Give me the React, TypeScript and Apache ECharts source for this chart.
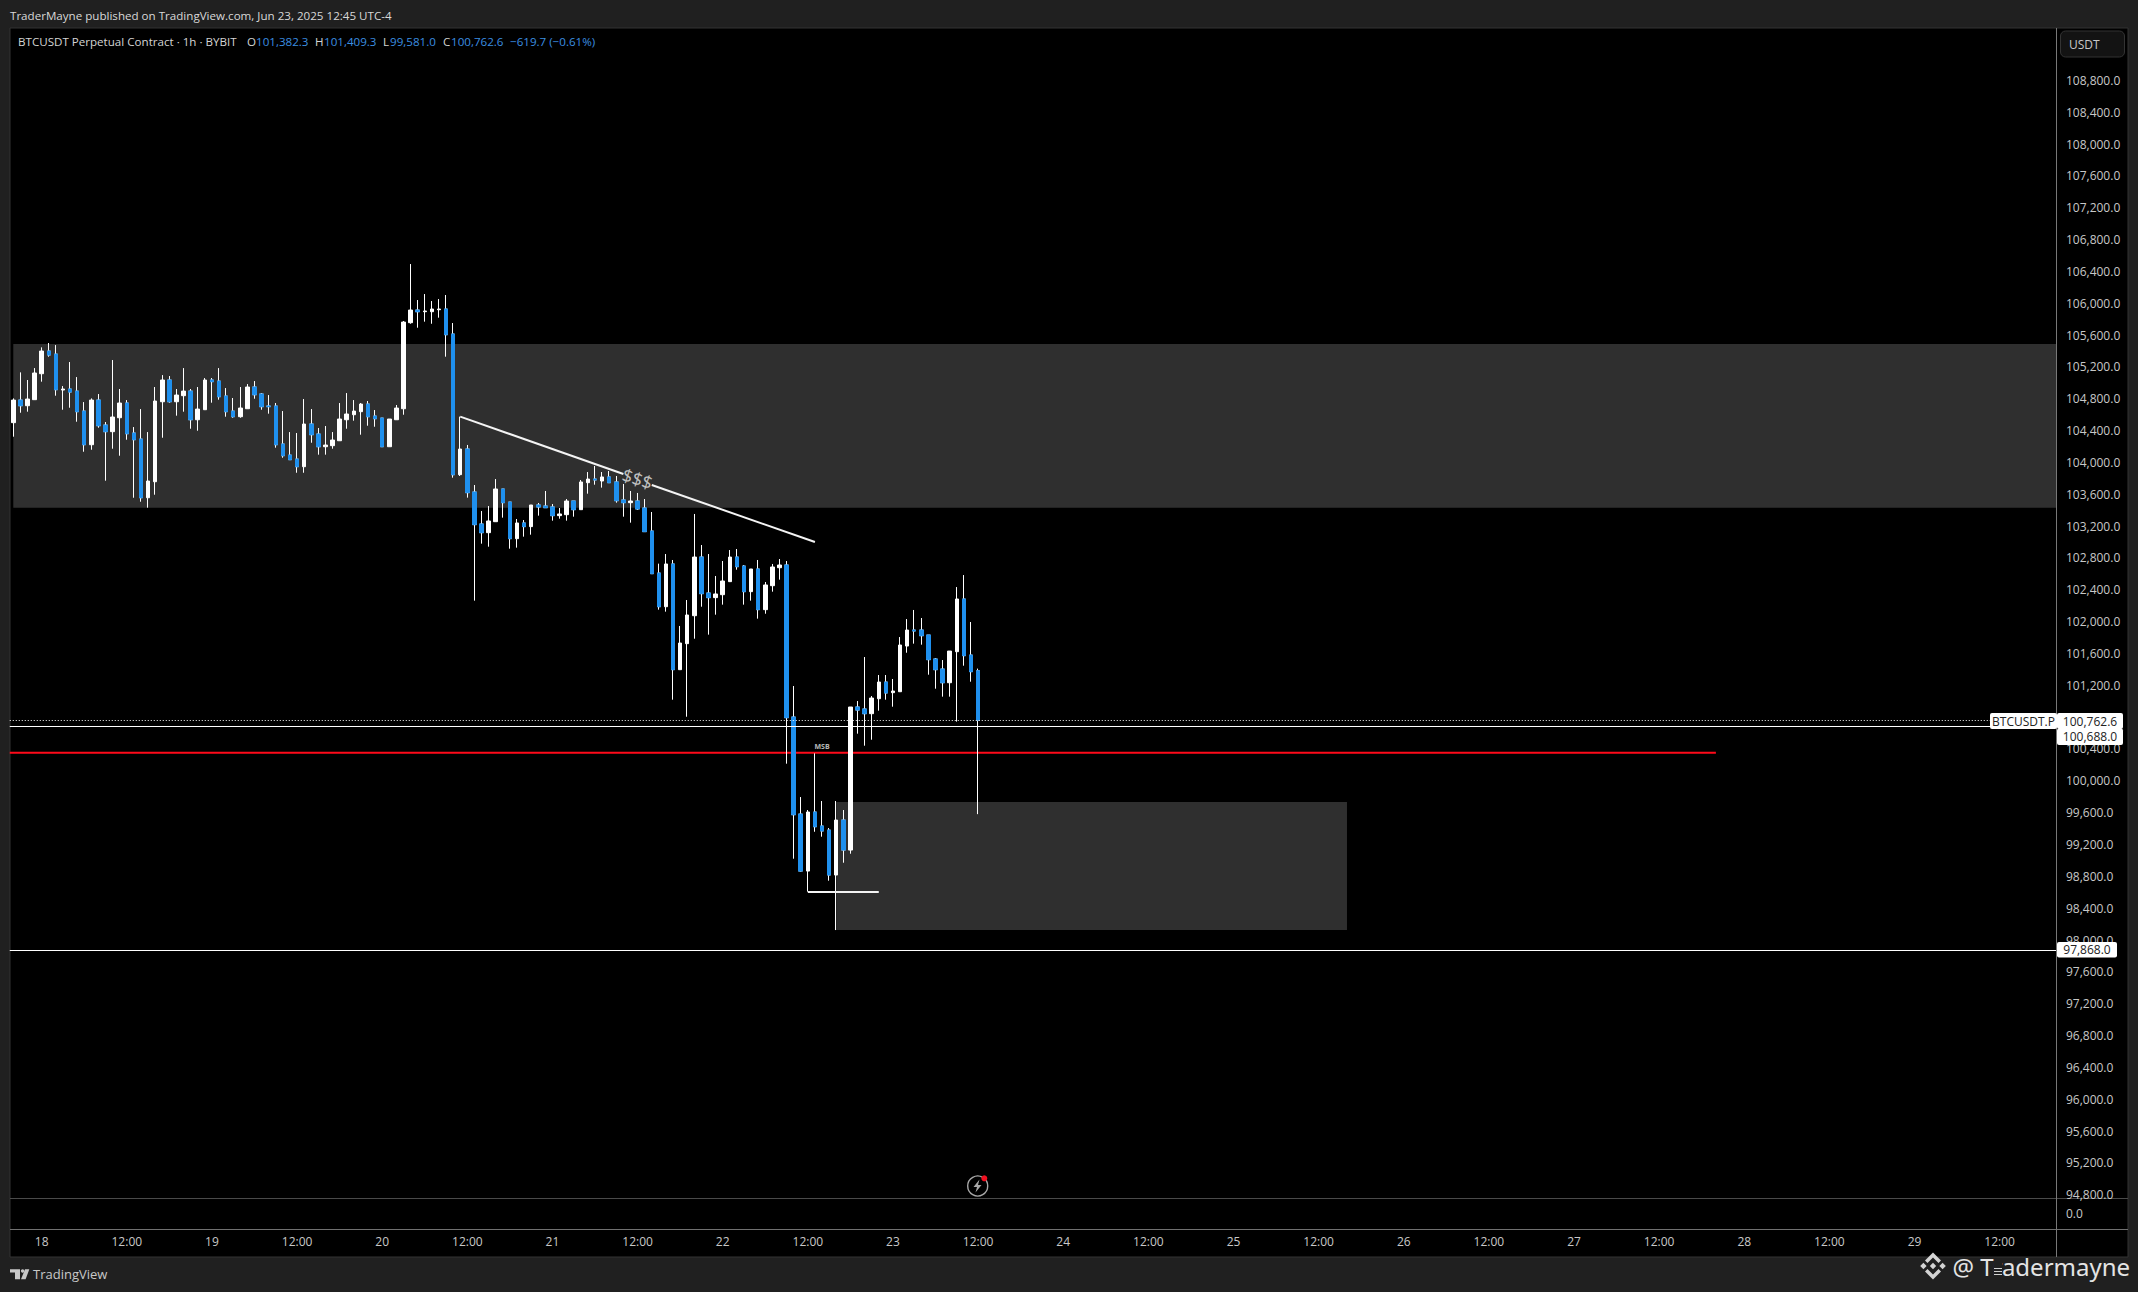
import React, { useEffect, useRef } from "react";
import * as echarts from "echarts";

// Candles, hourly, first one is Jun 17 20:00: [open, high, low, close]
const candles: number[][] = [
  [104499,104804,104323,104783],[104783,105131,104624,104712],[104712,105035,104637,104796],[104788,105185,104788,105123],
  [105114,105445,105014,105399],[105399,105500,105328,105349],[105361,105474,104838,104913],[104909,104959,104662,104922],
  [104922,105261,104687,104884],[104896,105072,104511,104637],[104645,104758,104134,104222],[104222,104804,104159,104783],
  [104783,104859,104436,104461],[104469,104507,103770,104386],[104386,105286,104172,104570],[104561,104922,104084,104746],
  [104746,104783,104285,104360],[104369,104444,103556,104285],[104293,104670,103506,103556],[103556,104381,103431,103766],
  [103757,104947,103594,104771],[104762,105097,104310,105035],[105035,105085,104750,104762],[104762,104922,104587,104846],
  [104838,105185,104637,104896],[104896,104922,104423,104536],[104536,104947,104398,104670],[104662,105060,104662,105035],
  [105035,105060,104750,105014],[105022,105185,104788,104825],[104834,104934,104574,104637],[104645,104809,104561,104574],
  [104574,104947,104561,104683],[104674,104984,104674,104947],[104947,105022,104800,104850],[104859,104871,104662,104700],
  [104708,104846,104612,104700],[104708,104746,104185,104222],[104231,104645,104059,104084],[104092,104381,104034,104034],
  [104042,104369,103870,103946],[103946,104796,103870,104482],[104482,104670,104247,104348],[104356,104432,104097,104197],
  [104197,104457,104097,104218],[104210,104381,104172,104281],[104272,104746,104272,104545],[104536,104871,104423,104608],
  [104599,104783,104524,104645],[104637,104746,104348,104733],[104733,104771,104461,104574],[104582,104658,104448,104549],
  [104557,104557,104197,104197],[104197,104545,104197,104545],[104536,104721,104536,104683],[104674,105776,104599,105763],
  [105755,106492,105742,105914],[105914,106040,105692,105893],[105893,106115,105768,105902],[105893,106027,105742,105927],
  [105918,106052,105818,105927],[105927,106103,105328,105604],[105613,105751,103808,103845],[103846,104575,103829,104168],
  [104168,104219,103557,103620],[103628,103716,102263,103218],[103226,103389,102979,103117],[103117,103452,102941,103264],
  [103255,103791,103255,103666],[103666,103666,103306,103494],[103502,103502,102916,103042],[103042,103289,102929,103239],
  [103239,103276,103067,103193],[103193,103465,103092,103465],[103465,103490,103331,103440],[103452,103641,103431,103431],
  [103440,103477,103268,103331],[103331,103427,103293,103352],[103343,103540,103268,103515],[103515,103515,103318,103406],
  [103406,103779,103406,103754],[103745,103879,103607,103791],[103791,103955,103720,103779],[103766,103879,103683,103817],
  [103817,103892,103745,103745],[103754,103829,103494,103519],[103528,103729,103318,103494],[103494,103641,103243,103515],
  [103515,103616,103402,103415],[103427,103540,103130,103130],[103138,103377,102602,102602],[102610,102728,102150,102187],
  [102187,102849,102125,102724],[102724,102774,101019,101396],[101396,101945,101396,101731],[101723,102271,100805,102083],
  [102074,103352,101785,102811],[102811,102962,102187,102351],[102359,102849,101836,102301],[102301,102573,102087,102347],
  [102338,102761,102213,102510],[102502,102899,102502,102811],[102811,102912,102652,102690],[102698,102711,102213,102376],
  [102376,102661,102263,102661],[102661,102774,102037,102150],[102150,102497,102099,102460],[102451,102724,102376,102686],
  [102677,102786,102527,102711],[102711,102761,100215,100793],[100801,101191,99021,99574],[99582,99796,98858,98866],
  [98866,99633,98607,99608],[99608,100345,99360,99423],[99432,99746,99298,99369],[99381,99407,98745,98816],
  [98816,99746,98125,99507],[99507,99633,98971,99130],[99130,100927,99084,100927],[100927,101002,100592,100889],
  [100902,101555,100441,100843],[100843,101065,100516,101040],[101031,101329,100881,101241],[101241,101329,101019,101103],
  [101107,101279,100931,101128],[101119,101806,101119,101706],[101693,102032,101609,101894],[101894,102146,101723,101882],
  [101894,102045,101710,101823],[101831,101831,101333,101522],[101530,101542,101157,101396],[101404,101517,101057,101232],
  [101232,101630,101057,101630],[101622,102434,100743,102284],[102284,102585,101446,101572],[101580,101995,101245,101371],
  [101382.3,101409.3,99581.0,100762.6],
];

// Time axis: one slot per hour, 4 slots before day 18 begins, 289 slots in all
const slotCount = 289;
const hoursBeforeFirstDay = 4;
const firstDay = 18;
const timeLabels: string[] = Array.from({ length: slotCount }, (_, i) => {
  const h = i - hoursBeforeFirstDay;
  if (h >= 0 && h % 24 === 0) return String(firstDay + h / 24);
  if (h >= 0 && h % 12 === 0) return "12:00";
  return "";
});

// Levels and drawings (prices, slot indexes)
const lastPrice = 100762.6;
const whiteLevel = 100688;
const lowLevel = 97868;
const redLevel = 100353;
const redEndSlot = 240;
const upperZone = { from: 0, to: 288, top: 105487, bottom: 103431 };
const lowerZone = { from: 116, to: 188, top: 99734, bottom: 98126 };
const trendSegments = [
  [[63, 104575], [86, 103854]],
  [[90, 103716], [113, 103000]],
];
const bracket = [[112, 98607], [122, 98607]];
const notes = [
  { text: "$$$", at: [88, 103797], size: 18, rotate: -18, weight: "normal" },
  { text: "MSB", at: [114, 100437], size: 7, rotate: 0, weight: "bold" },
];

const legendParts: [string, number, string][] = [
  ["BTCUSDT Perpetual Contract · 1h · BYBIT", 18, "#d4d4d4"],
  ["O", 247, "#d4d4d4"], ["101,382.3", 256, "#3b8fe0"],
  ["H", 315, "#d4d4d4"], ["101,409.3", 324, "#3b8fe0"],
  ["L", 383, "#d4d4d4"], ["99,581.0", 390, "#3b8fe0"],
  ["C", 443, "#d4d4d4"], ["100,762.6", 451, "#3b8fe0"],
  ["−619.7 (−0.61%)", 510, "#3b8fe0"],
];

const FONT = '"Open Sans"';
const TEXT = "#c8c8c8";
const BLUE = "#1f90ee";

function label(text: string, x: number, y: number, fill: string, size = 12, align = "left", z = 100, family = FONT) {
  return { type: "text", x, y, z, silent: true, style: { text, fill, font: `${size}px ${family}`, align, verticalAlign: "middle" } };
}
function hline(x1: number, x2: number, y: number, stroke: string, z = -1) {
  return { type: "line", z, silent: true, shape: { x1, y1: y, x2, y2: y }, style: { stroke, lineWidth: 1 } };
}
function tag(x: number, y: number, w: number, h: number, text: string) {
  return [
    { type: "rect", z: 100, silent: true, shape: { x, y, width: w, height: h, r: 2 }, style: { fill: "#ffffff" } },
    label(text, x + w / 2, y + h / 2, "#222222", 12, "center", 101),
  ];
}
function poly(points: number[][], fill: string, z = 100) {
  return { type: "polygon", z, silent: true, shape: { points }, style: { fill } };
}
function diamond(cx: number, cy: number, r: number) {
  return [[cx, cy - r], [cx + r, cy], [cx, cy + r], [cx - r, cy]];
}
function chevron(cx: number, cy: number, dir: number) {
  return [[cx, cy + dir * 13.5], [cx + 8, cy + dir * 5.5], [cx + 5.5, cy + dir * 3], [cx, cy + dir * 8.5], [cx - 5.5, cy + dir * 3], [cx - 8, cy + dir * 5.5]];
}

export default function App() {
  const ref = useRef<HTMLDivElement>(null);
  useEffect(() => {
    document.body.style.background = "#202020";
    const chart = echarts.init(ref.current!, undefined, { renderer: "svg" });
    const wm = { x: 1933, y: 1266 };
    const option: any = {
      animation: false,
      backgroundColor: "transparent",
      grid: [
        { left: 9.75, width: 2050.2, top: 16.64, height: 1209.92, containLabel: false },
        { left: 9.75, width: 2050.2, top: 1198.3, height: 31, containLabel: false },
      ],
      xAxis: [
        { type: "category", gridIndex: 0, data: timeLabels, show: false, boundaryGap: true },
        {
          type: "category", gridIndex: 1, data: timeLabels, boundaryGap: true,
          axisLine: { show: false }, axisTick: { show: false }, splitLine: { show: false },
          axisLabel: {
            color: TEXT, fontFamily: FONT, fontSize: 12, margin: 6, hideOverlap: false,
            interval: (i: number) => timeLabels[i] !== "",
          },
        },
      ],
      yAxis: [
        {
          type: "value", gridIndex: 0, position: "right", min: 94400, max: 109600, interval: 400,
          axisLine: { show: false }, axisTick: { show: false }, splitLine: { show: false },
          axisLabel: {
            color: TEXT, fontFamily: FONT, fontSize: 12, margin: 6, padding: [0, 0, 7, 0],
            formatter: (v: number) => (v > 108800 || v < 94800 ? "" : v.toLocaleString("en-US") + ".0"),
          },
        },
        {
          type: "value", gridIndex: 1, position: "right", min: -1, max: 1, interval: 1,
          axisLine: { show: false }, axisTick: { show: false }, splitLine: { show: false },
          axisLabel: {
            color: TEXT, fontFamily: FONT, fontSize: 12, margin: 6,
            formatter: (v: number) => (v === 0 ? "0.0" : ""),
          },
        },
      ],
      series: [
        {
          type: "line", data: [], xAxisIndex: 0, yAxisIndex: 0, z: 1, silent: true,
          markArea: {
            silent: true,
            itemStyle: { color: "#2f2f2f" },
            data: [upperZone, lowerZone].map((a) => [
              { coord: [a.from, a.top] }, { coord: [a.to, a.bottom] },
            ]),
          },
          markLine: {
            silent: true, symbol: ["none", "none"], animation: false, label: { show: false },
            data: [
              { yAxis: lastPrice, lineStyle: { color: "#ffffff", width: 1, type: [1, 2] } },
              { yAxis: whiteLevel, lineStyle: { color: "#ffffff", width: 1, type: "solid" } },
              { yAxis: lowLevel, lineStyle: { color: "#ffffff", width: 1, type: "solid" } },
            ],
          },
        },
        {
          // red level: starts at the pane's left edge, ends at its slot
          type: "custom", xAxisIndex: 0, yAxisIndex: 0, z: 2, silent: true,
          encode: { x: 0, y: 1 },
          data: [[redEndSlot, redLevel]],
          renderItem: (params: any, api: any) => {
            const end = api.coord([api.value(0), api.value(1)]);
            return {
              type: "line",
              shape: { x1: params.coordSys.x, y1: end[1], x2: end[0], y2: end[1] },
              style: { stroke: "#ff0a1a", lineWidth: 2 },
            };
          },
        },
        {
          // white wicks and up-candle bodies
          type: "candlestick", xAxisIndex: 0, yAxisIndex: 0, z: 3, barWidth: 4, silent: true,
          data: candles.map(([o, h, l, c]) => [o, c, l, h]),
          itemStyle: { color: "#ffffff", color0: "#ffffff", borderColor: "#ffffff", borderColor0: "#ffffff", borderWidth: 1 },
        },
        {
          // blue bodies of the down candles, laid over them
          type: "candlestick", xAxisIndex: 0, yAxisIndex: 0, z: 4, barWidth: 4, silent: true,
          data: candles.map(([o, , , c]) => (c < o ? [o, c, c, o] : ["-", "-", "-", "-"])),
          itemStyle: { color: BLUE, color0: BLUE, borderColor: BLUE, borderColor0: BLUE, borderWidth: 1 },
        },
        {
          type: "line", data: [], xAxisIndex: 0, yAxisIndex: 0, z: 5, silent: true,
          markLine: {
            silent: true, symbol: ["none", "none"], animation: false, label: { show: false },
            lineStyle: { color: "#f4f4f4", width: 2, type: "solid" },
            data: [...trendSegments, bracket].map((s) => [{ coord: s[0] }, { coord: s[1] }]),
          },
        },
        {
          type: "scatter", xAxisIndex: 0, yAxisIndex: 0, z: 6, symbolSize: 0, silent: true,
          data: notes.map((n) => ({
            value: n.at,
            label: {
              show: true, position: "inside", formatter: n.text, color: "#e8e8e8",
              fontFamily: FONT, fontSize: n.size, fontWeight: n.weight, rotate: n.rotate,
            },
          })),
        },
      ],
      graphic: {
        elements: [
          { type: "rect", z: -5, silent: true, shape: { x: 10, y: 28, width: 2118, height: 1229 }, style: { fill: "#000000", stroke: "#333333", lineWidth: 1 } },
          hline(10, 2128, 1198.5, "#4a4a4a"),
          hline(10, 2128, 1229.5, "#707070"),
          { type: "line", z: 50, silent: true, shape: { x1: 2056.5, y1: 28, x2: 2056.5, y2: 1257 }, style: { stroke: "#787878", lineWidth: 1 } },

          label("TraderMayne published on TradingView.com, Jun 23, 2025 12:45 UTC-4", 10, 15, "#d8d8d8", 11.6),
          ...legendParts.map(([t, x, c]) => label(t, x, 41.5, c, 11.6)),

          { type: "rect", z: 60, silent: true, shape: { x: 2060.5, y: 31, width: 64, height: 26, r: 5 }, style: { fill: "#131313", stroke: "#333333", lineWidth: 1 } },
          label("USDT", 2069, 44.5, TEXT, 12, "left", 61),

          ...tag(1990, 713, 67, 16, "BTCUSDT.P"),
          ...tag(2057, 713, 66, 16, "100,762.6"),
          ...tag(2057, 728.5, 66, 16.5, "100,688.0"),
          ...tag(2057, 942, 60, 15.5, "97,868.0"),

          { type: "circle", z: 70, silent: true, shape: { cx: 977.7, cy: 1186, r: 10 }, style: { fill: "transparent", stroke: "#a8a8a8", lineWidth: 1.4 } },
          poly([[979.5, 1179.5], [973.5, 1187], [977, 1187], [975.5, 1192.5], [981.5, 1185], [978, 1185]], "#a8a8a8", 70),
          { type: "circle", z: 71, silent: true, shape: { cx: 984.3, cy: 1178.3, r: 3 }, style: { fill: "#f01020" } },

          poly([[10, 1269.3], [20, 1269.3], [20, 1279.3], [15, 1279.3], [15, 1272.6], [10, 1272.6]], TEXT),
          { type: "circle", z: 100, silent: true, shape: { cx: 22.6, cy: 1271, r: 1.7 }, style: { fill: TEXT } },
          poly([[25, 1269.3], [29.3, 1269.3], [25.6, 1279.3], [21, 1279.3]], TEXT),
          label("TradingView", 33, 1274, TEXT, 13),

          poly(diamond(wm.x, wm.y, 3.2), "#d4d4d4"),
          poly(diamond(wm.x - 9.6, wm.y, 3.2), "#d4d4d4"),
          poly(diamond(wm.x + 9.6, wm.y, 3.2), "#d4d4d4"),
          poly(chevron(wm.x, wm.y, -1), "#d4d4d4"),
          poly(chevron(wm.x, wm.y, 1), "#d4d4d4"),
          label("@ Tradermayne", 1952.5, 1266, "#e4e4e4", 24, "left", 100, '"Noto Sans"'),
          { type: "rect", z: 102, silent: true, shape: { x: 1994, y: 1262, width: 8, height: 14 }, style: { fill: "#202020" } },
          hline(1994, 2002, 1268.5, "#d0d0d0", 103),
          hline(1994, 2002, 1271.5, "#d0d0d0", 103),
          hline(1994, 2002, 1274.5, "#d0d0d0", 103),
        ],
      },
    };
    chart.setOption(option);
    return () => chart.dispose();
  }, []);
  return (
    <div
      ref={ref}
      style={{ position: "fixed", left: 0, top: 0, width: 2138, height: 1292, background: "#202020" }}
    />
  );
}
